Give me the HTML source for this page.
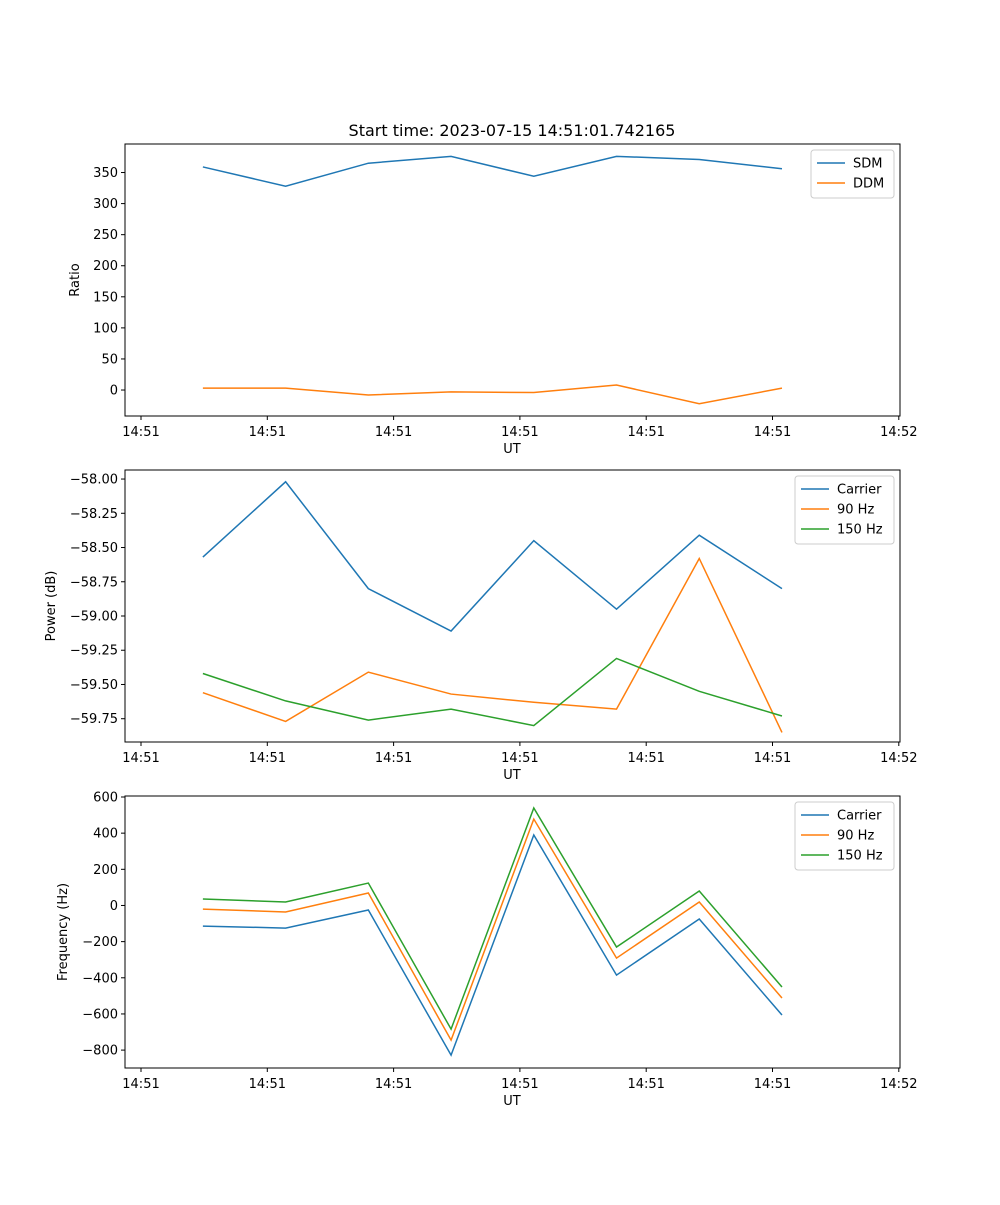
<!DOCTYPE html>
<html><head><meta charset="utf-8"><style>
body{margin:0;background:#fff;font-family:"Liberation Sans","DejaVu Sans",sans-serif}
svg text{font-family:"DejaVu Sans","Liberation Sans",sans-serif;fill:#000}
</style></head><body>
<svg id="fig" width="1000" height="1200" xmlns="http://www.w3.org/2000/svg"></svg>
<script>
const tickLabels=["14:51","14:51","14:51","14:51","14:51","14:51","14:52"];
const times=[0.49,1.145,1.80,2.455,3.11,3.765,4.42,5.075];
const sdm=[359,328,365,376,344,376,371,356];
const ddm=[3,3,-8,-3,-4,8,-22,3];
const pCarrier=[-58.57,-58.02,-58.80,-59.11,-58.45,-58.95,-58.41,-58.80];
const p90=[-59.56,-59.77,-59.41,-59.57,-59.63,-59.68,-58.58,-59.85];
const p150=[-59.42,-59.62,-59.76,-59.68,-59.80,-59.31,-59.55,-59.73];
const fCarrier=[-114,-125,-25,-828,390,-385,-75,-606];
const f90=[-20,-36,69,-745,478,-291,19,-512];
const f150=[36,19,124,-684,539,-230,80,-451];
const yTicks1=[0,50,100,150,200,250,300,350];
const yTicks2=[-58.00,-58.25,-58.50,-58.75,-59.00,-59.25,-59.50,-59.75];
const yTicks3=[600,400,200,0,-200,-400,-600,-800];
const NS="http://www.w3.org/2000/svg",svg=document.getElementById('fig');
const C=["#1f77b4","#ff7f0e","#2ca02c"];
function el(t,a,p){const e=document.createElementNS(NS,t);for(const k in a)e.setAttribute(k,a[k]);(p||svg).appendChild(e);return e;}
const L=125,R=900;
const xs=v=>141+126.3*v;
function panel(top,bot,ymin,ymax,ticks,fmt,ylabel,series,names,legW,id,title){
  const g=el('g',{});
  
  const ys=v=>bot-(v-ymin)/(ymax-ymin)*(bot-top);
  if(title){const t=el('text',{x:512,y:136,'font-size':16,'text-anchor':'middle'},g);t.textContent=title;}
  tickLabels.forEach((l,i)=>{const x=xs(i);el('line',{x1:x,x2:x,y1:bot,y2:bot+4,stroke:'#000'},g);
    const t=el('text',{x:x,y:bot+20,'font-size':13,'text-anchor':'middle'},g);t.textContent=l;});
  ticks.forEach(v=>{const y=ys(v);el('line',{x1:L-4,x2:L,y1:y,y2:y,stroke:'#000'},g);
    const t=el('text',{x:L-7,y:y+4.5,'font-size':13,'text-anchor':'end'},g);t.textContent=fmt(v);});
  const xl=el('text',{x:512,y:bot+37,'font-size':13,'text-anchor':'middle'},g);xl.textContent='UT';
  const yl=el('text',{x:0,y:0,'font-size':13,'text-anchor':'middle',transform:`translate(${id==='ratio'?79:id==='power'?55:67},${(top+bot)/2}) rotate(-90)`},g);yl.textContent=ylabel;
  series.forEach((s,k)=>{const p=el('polyline',{points:s.map((v,i)=>xs(times[i])+','+ys(v)).join(' '),fill:'none',stroke:C[k],'stroke-width':1.5},g);
    });
  el('rect',{x:L,y:top,width:R-L,height:bot-top,fill:'none',stroke:'#000','stroke-width':1},g);
  const lg=el('g',{},g);
  const lx=R-6-legW,ly=top+6,h=names.length*20+8;
  el('rect',{x:lx,y:ly,width:legW,height:h,fill:'#fff',stroke:'#ccc',rx:3},lg);
  names.forEach((n,k)=>{const y=ly+13+k*20;el('line',{x1:lx+6,x2:lx+34,y1:y,y2:y,stroke:C[k],'stroke-width':1.5},lg);
    const t=el('text',{x:lx+42,y:y+4.5,'font-size':13},lg);t.textContent=n;});
}
panel(144,416,-41.8,395.9,yTicks1,v=>v<0?'\u2212'+(-v):String(v),'Ratio',[sdm,ddm],['SDM','DDM'],83,'ratio','Start time: 2023-07-15 14:51:01.742165');
panel(470,742,-59.92,-57.934,yTicks2,v=>'\u2212'+(-v).toFixed(2),'Power (dB)',[pCarrier,p90,p150],['Carrier','90 Hz','150 Hz'],99,'power');
panel(796,1068,-899,605.5,yTicks3,v=>v<0?'\u2212'+(-v):String(v),'Frequency (Hz)',[fCarrier,f90,f150],['Carrier','90 Hz','150 Hz'],99,'frequency');
</script>
</body></html>
